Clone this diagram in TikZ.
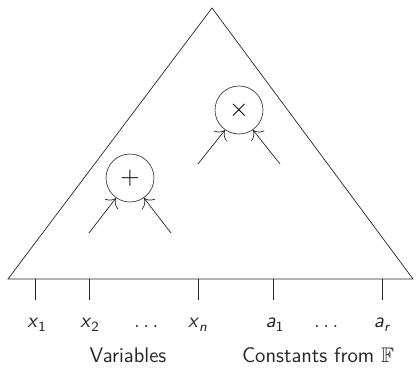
\documentclass[tikz,border=0pt]{standalone}
\usepackage{amsmath,amssymb}
\usetikzlibrary{arrows.meta,positioning}
\renewcommand{\familydefault}{\sfdefault}
\newcommand{\leafvar}[2]{\textit{#1}\textsubscript{\upshape#2}}
\tikzset{
	gatenode/.style={circle, draw=black!75, minimum size=0.96cm, inner sep=0pt, font=\Large},
	wirearr/.style={-{To[length=1.6mm]}, black!85},
	leaflabel/.style={anchor=base, text=black!85, font=\large},
	grouplabel/.style={anchor=base, text=black!85, font=\large}
}
\begin{document}
\begin{tikzpicture}[x=0.02cm, y=-0.02cm]
	\useasboundingbox (0,0) rectangle (420,375);
	% the circuit
	\coordinate (top) at (212,8);
	\coordinate (left) at (8,279);
	\coordinate (right) at (413,279);
	\draw[black!85] (left) -- (top) -- (right) -- cycle;
	% gates
	\node[gatenode] (plus) at (130,178) {$+$};
	\node[gatenode] (times) at (239,110) {$\times$};
	\coordinate (p1) at (89,233);
	\coordinate (p2) at (171,233);
	\coordinate (t1) at (198,164);
	\coordinate (t2) at (280,164);
	\draw[wirearr] (p1) -- (plus.-125);
	\draw[wirearr] (p2) -- (plus.-55);
	\draw[wirearr] (t1) -- (times.-125);
	\draw[wirearr] (t2) -- (times.-55);
	% inputs
	\node[leaflabel] (x1) at (37,328) {\leafvar{x}{1}};
	\node[leaflabel] (x2) at (90,328) {\leafvar{x}{2}};
	\node[leaflabel] (xdots) at (148,328) {$\dots$};
	\node[leaflabel] (xn) at (198,328) {\leafvar{x}{\itshape n}};
	\node[leaflabel] (a1) at (275,328) {\leafvar{a}{1}};
	\node[leaflabel] (adots) at (328,328) {$\dots$};
	\node[leaflabel] (ar) at (382,328) {\leafvar{a}{\itshape r}};
	\foreach \xpos in {35, 89, 198, 273, 382}
		\draw[black!85] (\xpos,279) -- (\xpos,300);
	\node[grouplabel] (vars) at (128,363) {Variables};
	\node[grouplabel] (consts) at (318,363) {Constants from $\mathbb{F}$};
\end{tikzpicture}
\end{document}
